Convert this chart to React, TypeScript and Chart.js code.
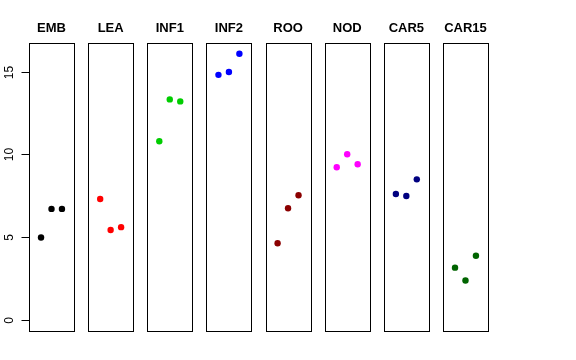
import React, { useEffect, useRef } from "react";
import { Chart, registerables } from "chart.js";

Chart.register(...registerables);

const categories = ["EMB", "LEA", "INF1", "INF2", "ROO", "NOD", "CAR5", "CAR15"];
const xPositions = [1, 2, 3];
const EMB = [5.0, 6.72, 6.72];
const LEA = [7.32, 5.45, 5.62];
const INF1 = [10.8, 13.32, 13.2];
const INF2 = [14.8, 14.97, 16.07];
const ROO = [4.65, 6.76, 7.54];
const NOD = [9.23, 10.01, 9.41];
const CAR5 = [7.62, 7.5, 8.5];
const CAR15 = [3.18, 2.4, 3.9];
const seriesValues = [EMB, LEA, INF1, INF2, ROO, NOD, CAR5, CAR15];
const colors = ["#000000", "#FF0000", "#00CD00", "#0000FF", "#8B0000", "#FF00FF", "#000080", "#006400"];
const yTicks = [0, 5, 10, 15];

const W = 576;
const H = 360;
const PANEL_LEFT0 = 29;
const PANEL_STEP = 59.14;
const PANEL_W = 45;
const PAD_TOP = 43;
const PAD_BOTTOM = 29;
const FONT = "'Liberation Sans', Arial, Helvetica, sans-serif";

function makePanelPlugin(title: string, withAxis: boolean) {
  return {
    id: "panelDeco" + title,
    afterDatasetsDraw(chart: any) {
      const { ctx, chartArea } = chart;
      const l = Math.round(chartArea.left) + 0.5;
      const t = Math.round(chartArea.top) + 0.5;
      const r = Math.round(chartArea.right) + 0.5;
      const b = Math.round(chartArea.bottom) + 0.5;
      ctx.save();
      ctx.strokeStyle = "#000000";
      ctx.lineWidth = 1;
      ctx.strokeRect(l, t, r - l, b - t);
      ctx.fillStyle = "#000000";
      ctx.font = "bold 13px " + FONT;
      ctx.textAlign = "center";
      ctx.textBaseline = "middle";
      ctx.fillText(title, (chartArea.left + chartArea.right) / 2, 28);
      if (withAxis) {
        const yScale = chart.scales.y;
        const ax = l;
        const y0 = Math.round(yScale.getPixelForValue(yTicks[0])) + 0.5;
        const y1 = Math.round(yScale.getPixelForValue(yTicks[yTicks.length - 1])) + 0.5;
        ctx.beginPath();
        ctx.moveTo(ax, y0);
        ctx.lineTo(ax, y1);
        ctx.stroke();
        ctx.font = "12px " + FONT;
        yTicks.forEach((v) => {
          const py = Math.round(yScale.getPixelForValue(v)) + 0.5;
          ctx.beginPath();
          ctx.moveTo(ax - 8, py);
          ctx.lineTo(ax, py);
          ctx.stroke();
          ctx.save();
          ctx.translate(10, py);
          ctx.rotate(-Math.PI / 2);
          ctx.textAlign = "center";
          ctx.textBaseline = "middle";
          ctx.fillText(String(v), 0, 0);
          ctx.restore();
        });
      }
      ctx.restore();
    },
  };
}

function Panel({ index }: { index: number }) {
  const ref = useRef<HTMLCanvasElement | null>(null);
  useEffect(() => {
    if (!ref.current) return;
    const left = PANEL_LEFT0 + index * PANEL_STEP;
    const right = W - left - PANEL_W;
    const color = colors[index];
    const chart = new Chart(ref.current, {
      type: "scatter",
      data: {
        datasets: [
          {
            data: xPositions.map((x, j) => ({ x, y: seriesValues[index][j] })),
            backgroundColor: color,
            borderColor: color,
            pointRadius: 3.2,
            pointBorderWidth: 0,
            pointHoverRadius: 3.2,
          },
        ],
      },
      options: {
        animation: false,
        responsive: false,
        maintainAspectRatio: false,
        devicePixelRatio: 1,
        layout: { padding: { left, right, top: PAD_TOP, bottom: PAD_BOTTOM } },
        scales: {
          x: { type: "linear", min: -0.15, max: 4.15, display: false },
          y: { type: "linear", min: -0.64, max: 16.72, display: false },
        },
        plugins: { legend: { display: false }, tooltip: { enabled: false } },
        events: [],
      },
      plugins: [makePanelPlugin(categories[index], index === 0)],
    } as any);
    return () => chart.destroy();
  }, [index]);
  return (
    <canvas
      ref={ref}
      width={W}
      height={H}
      style={{ position: "absolute", left: 0, top: 0, width: W, height: H }}
    />
  );
}

export default function App() {
  return (
    <div style={{ position: "absolute", left: 0, top: 0, width: W, height: H, background: "#ffffff" }}>
      {categories.map((c, i) => (
        <Panel key={c} index={i} />
      ))}
    </div>
  );
}
